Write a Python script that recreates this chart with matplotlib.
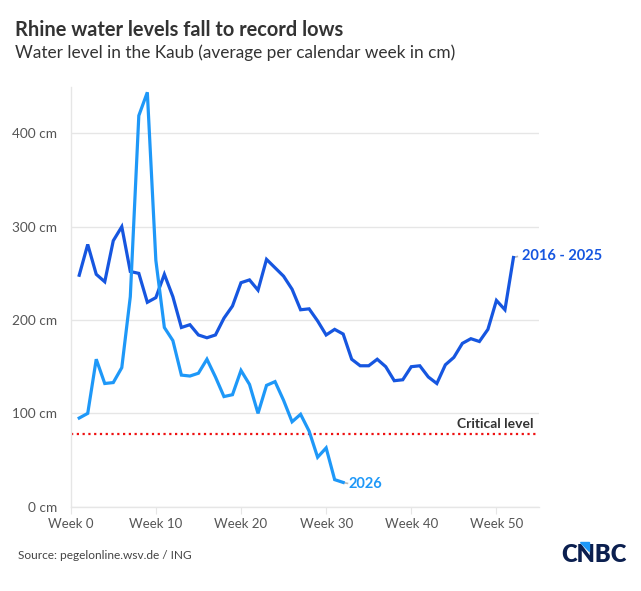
import matplotlib
matplotlib.use("Agg")
import matplotlib.pyplot as plt
from matplotlib.patches import Polygon

# ---- data ----
weeks_hist = list(range(1, 53))
level_hist = [248, 281, 249, 241, 285, 300, 252, 250, 219, 224, 249, 225, 192, 195,
              184, 181, 184, 202, 215, 240, 243, 232, 265, 256, 247, 233, 211, 212,
              199, 184, 190, 185, 158, 151, 151, 158, 150, 135, 136, 150, 151, 139,
              132, 152, 160, 175, 180, 177, 190, 221, 211, 267]
weeks_2026 = list(range(1, 33))
level_2026 = [95, 100, 158, 132, 133, 149, 225, 419, 444, 264, 192, 178, 141, 140,
              143, 158, 139, 118, 120, 146, 131, 100, 130, 134, 114, 91, 99, 81,
              53, 63, 29, 26]
critical_level = 78
x_ticks = [0, 10, 20, 30, 40, 50]
x_labels = ["Week 0", "Week 10", "Week 20", "Week 30", "Week 40", "Week 50"]
y_ticks = [0, 100, 200, 300, 400]
y_labels = ["0 cm", "100 cm", "200 cm", "300 cm", "400 cm"]
series_labels = ["2016 - 2025", "2026"]

plt.rcParams['font.family'] = ['Lato', 'DejaVu Sans']

DARK = "#1656E0"
LIGHT = "#1E98F8"
GRID = "#E6E6E6"
TXT = "#555555"

fig = plt.figure(figsize=(6.41, 5.91), dpi=100)
ax = fig.add_axes([70.7 / 641, 1 - 506.7 / 591, (539 - 70.7) / 641, (506.7 - 86.7) / 591])

ax.set_xlim(0, 55)
ax.set_ylim(0, 450)

for y in y_ticks:
    ax.axhline(y, color=GRID, lw=1, zorder=0)

ax.plot(weeks_hist, level_hist, color=DARK, lw=2.3, zorder=3, solid_joinstyle='miter')
ax.plot(weeks_2026, level_2026, color=LIGHT, lw=2.3, zorder=4, solid_joinstyle='miter')
ax.axhline(critical_level, color="#EE1111", lw=1.6, ls=(0, (1, 1.6)), zorder=2)

for s in ["top", "right"]:
    ax.spines[s].set_visible(False)
ax.spines["left"].set_color(GRID)
ax.spines["bottom"].set_color(GRID)
ax.spines["left"].set_linewidth(1)
ax.spines["bottom"].set_linewidth(1)

ax.set_xticks(x_ticks)
ax.set_xticklabels(x_labels)
ax.set_yticks(y_ticks)
ax.set_yticklabels(y_labels)
ax.tick_params(axis='x', length=5, color=GRID, labelsize=9.5, labelcolor=TXT, pad=3)
ax.tick_params(axis='y', length=0, labelsize=9.8, labelcolor=TXT, pad=10)

# end labels with connectors
ax.plot([weeks_hist[-1], weeks_hist[-1] + 0.45], [level_hist[-1], level_hist[-1] + 1],
        color="#BBBBBB", lw=1.2, zorder=2)
ax.annotate(series_labels[0], (weeks_hist[-1], level_hist[-1]), xytext=(6, 1),
            textcoords='offset points', color=DARK, fontsize=10.5, fontweight='bold',
            va='center', ha='left', annotation_clip=False)
ax.plot([weeks_2026[-1], weeks_2026[-1] + 0.5], [level_2026[-1], level_2026[-1] - 1],
        color="#BBBBBB", lw=1.2, zorder=2)
ax.annotate(series_labels[1], (weeks_2026[-1], level_2026[-1]), xytext=(4, -1),
            textcoords='offset points', color=LIGHT, fontsize=10.5, fontweight='bold',
            va='center', ha='left', annotation_clip=False)

ax.text(54.3, critical_level + 4, "Critical level", ha='right', va='bottom',
        fontsize=10, fontweight='bold', color="#333333")

# titles
fig.text(15 / 641, 1 - 36.5 / 591, "Rhine water levels fall to record lows",
         fontsize=14.4, fontweight='bold', color="#333333", ha='left', va='baseline')
fig.text(15 / 641, 1 - 58 / 591, "Water level in the Kaub (average per calendar week in cm)",
         fontsize=12.4, color="#333333", ha='left', va='baseline')
fig.text(18 / 641, 1 - 559 / 591, "Source: pegelonline.wsv.de / ING",
         fontsize=8.6, color="#444444", ha='left', va='baseline')

# CNBC logo
fig.text(627 / 641, 1 - 562 / 591, "CNBC", fontsize=17, fontweight='heavy',
         color="#0B1F4F", ha='right', va='baseline')
tri = Polygon([[580 / 641, 1 - 542 / 591], [589 / 641, 1 - 542 / 591],
               [589 / 641, 1 - 551 / 591]], closed=True, transform=fig.transFigure,
              color="#1E98F8", zorder=5)
fig.patches.append(tri)

fig.savefig("out.png", dpi=100, facecolor="white")
